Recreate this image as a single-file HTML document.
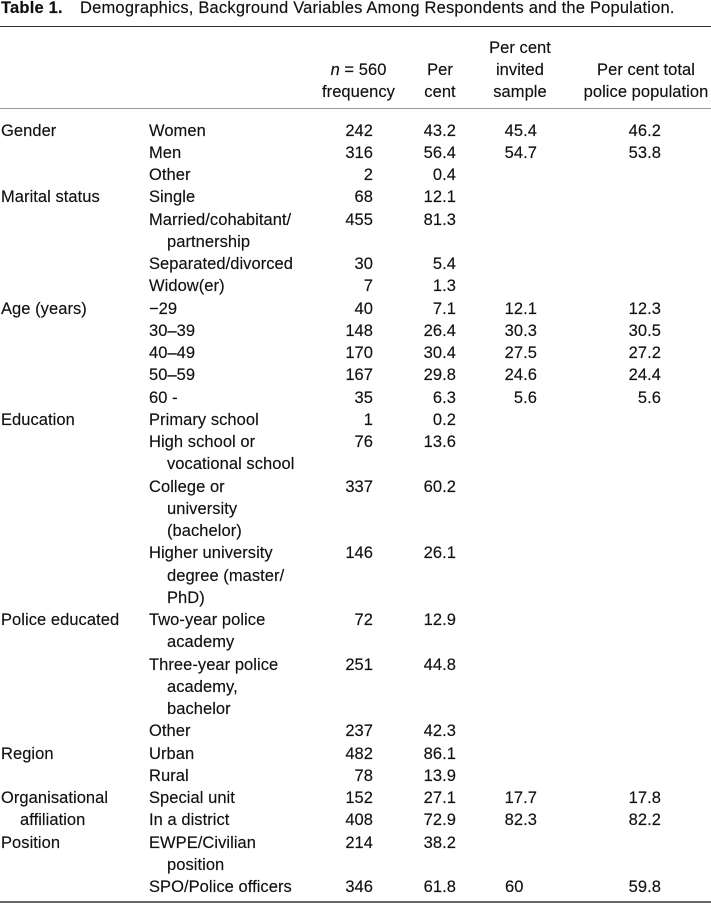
<!DOCTYPE html>
<html>
<head>
<meta charset="utf-8">
<style>
  html, body { margin:0; padding:0; background:#fff; }
  body { width:711px; height:904px; position:relative; overflow:hidden;
         font-family:"Liberation Sans", "DejaVu Sans", sans-serif; color:#111; }
  .t { position:absolute; font-size:16.5px; line-height:22px; white-space:nowrap; letter-spacing:0.2px; top:-3px; -webkit-text-stroke:0.15px #111; }
  .rule { position:absolute; left:0; width:711px; }
  .r { position:absolute; left:0; width:711px; height:22px; font-size:16.5px; line-height:22px; letter-spacing:0.05px; -webkit-text-stroke:0.15px #111; }
  .r span { position:absolute; top:0; white-space:nowrap; }
  .a { left:1px; }
  .ai { left:20px; }
  .b { left:149px; }
  .bi { left:167px; }
  .n { right:338px; }
  .p { right:255px; }
  .v { right:174px; }
  .v0 { left:505px; }
  .q { right:50px; }
  .hc { width:200px; text-align:center; }
  .h1 { left:258.5px; }
  .h2 { left:340px; }
  .h3 { left:420px; }
  .h4 { left:546px; }
</style>
</head>
<body>
<div class="t" style="left:1px;font-weight:bold;">Table 1.</div>
<div class="t" style="left:80px;">Demographics, Background Variables Among Respondents and the Population.</div>

<div class="rule" style="top:25.5px;height:1.5px;background:#333;"></div>

<div class="r" style="top:36.5px"><span class="hc h3">Per cent</span></div>
<div class="r" style="top:58.5px"><span class="hc h1"><i>n</i> = 560</span><span class="hc h2">Per</span><span class="hc h3">invited</span><span class="hc h4">Per cent total</span></div>
<div class="r" style="top:80.5px"><span class="hc h1">frequency</span><span class="hc h2">cent</span><span class="hc h3">sample</span><span class="hc h4">police population</span></div>

<div class="rule" style="top:107.5px;height:1px;background:#999;"></div>

<div class="r" style="top:119.5px"><span class="a">Gender</span><span class="b">Women</span><span class="n">242</span><span class="p">43.2</span><span class="v">45.4</span><span class="q">46.2</span></div>
<div class="r" style="top:141.75px"><span class="b">Men</span><span class="n">316</span><span class="p">56.4</span><span class="v">54.7</span><span class="q">53.8</span></div>
<div class="r" style="top:164px"><span class="b">Other</span><span class="n">2</span><span class="p">0.4</span></div>
<div class="r" style="top:186.25px"><span class="a">Marital status</span><span class="b">Single</span><span class="n">68</span><span class="p">12.1</span></div>
<div class="r" style="top:208.5px"><span class="b">Married/cohabitant/</span><span class="n">455</span><span class="p">81.3</span></div>
<div class="r" style="top:230.75px"><span class="bi">partnership</span></div>
<div class="r" style="top:253px"><span class="b">Separated/divorced</span><span class="n">30</span><span class="p">5.4</span></div>
<div class="r" style="top:275.25px"><span class="b">Widow(er)</span><span class="n">7</span><span class="p">1.3</span></div>
<div class="r" style="top:297.5px"><span class="a">Age (years)</span><span class="b">&minus;29</span><span class="n">40</span><span class="p">7.1</span><span class="v">12.1</span><span class="q">12.3</span></div>
<div class="r" style="top:319.75px"><span class="b">30&ndash;39</span><span class="n">148</span><span class="p">26.4</span><span class="v">30.3</span><span class="q">30.5</span></div>
<div class="r" style="top:342px"><span class="b">40&ndash;49</span><span class="n">170</span><span class="p">30.4</span><span class="v">27.5</span><span class="q">27.2</span></div>
<div class="r" style="top:364.25px"><span class="b">50&ndash;59</span><span class="n">167</span><span class="p">29.8</span><span class="v">24.6</span><span class="q">24.4</span></div>
<div class="r" style="top:386.5px"><span class="b">60 -</span><span class="n">35</span><span class="p">6.3</span><span class="v">5.6</span><span class="q">5.6</span></div>
<div class="r" style="top:408.75px"><span class="a">Education</span><span class="b">Primary school</span><span class="n">1</span><span class="p">0.2</span></div>
<div class="r" style="top:431px"><span class="b">High school or</span><span class="n">76</span><span class="p">13.6</span></div>
<div class="r" style="top:453.25px"><span class="bi">vocational school</span></div>
<div class="r" style="top:475.5px"><span class="b">College or</span><span class="n">337</span><span class="p">60.2</span></div>
<div class="r" style="top:497.75px"><span class="bi">university</span></div>
<div class="r" style="top:520px"><span class="bi">(bachelor)</span></div>
<div class="r" style="top:542.25px"><span class="b">Higher university</span><span class="n">146</span><span class="p">26.1</span></div>
<div class="r" style="top:564.5px"><span class="bi">degree (master/</span></div>
<div class="r" style="top:586.75px"><span class="bi">PhD)</span></div>
<div class="r" style="top:609px"><span class="a">Police educated</span><span class="b">Two-year police</span><span class="n">72</span><span class="p">12.9</span></div>
<div class="r" style="top:631.25px"><span class="bi">academy</span></div>
<div class="r" style="top:653.5px"><span class="b">Three-year police</span><span class="n">251</span><span class="p">44.8</span></div>
<div class="r" style="top:675.75px"><span class="bi">academy,</span></div>
<div class="r" style="top:698px"><span class="bi">bachelor</span></div>
<div class="r" style="top:720.25px"><span class="b">Other</span><span class="n">237</span><span class="p">42.3</span></div>
<div class="r" style="top:742.5px"><span class="a">Region</span><span class="b">Urban</span><span class="n">482</span><span class="p">86.1</span></div>
<div class="r" style="top:764.75px"><span class="b">Rural</span><span class="n">78</span><span class="p">13.9</span></div>
<div class="r" style="top:787px"><span class="a">Organisational</span><span class="b">Special unit</span><span class="n">152</span><span class="p">27.1</span><span class="v">17.7</span><span class="q">17.8</span></div>
<div class="r" style="top:809.25px"><span class="ai">affiliation</span><span class="b">In a district</span><span class="n">408</span><span class="p">72.9</span><span class="v">82.3</span><span class="q">82.2</span></div>
<div class="r" style="top:831.5px"><span class="a">Position</span><span class="b">EWPE/Civilian</span><span class="n">214</span><span class="p">38.2</span></div>
<div class="r" style="top:853.75px"><span class="bi">position</span></div>
<div class="r" style="top:876px"><span class="b">SPO/Police officers</span><span class="n">346</span><span class="p">61.8</span><span class="v0">60</span><span class="q">59.8</span></div>

<div class="rule" style="top:901px;height:2px;background:#666;"></div>
</body>
</html>
